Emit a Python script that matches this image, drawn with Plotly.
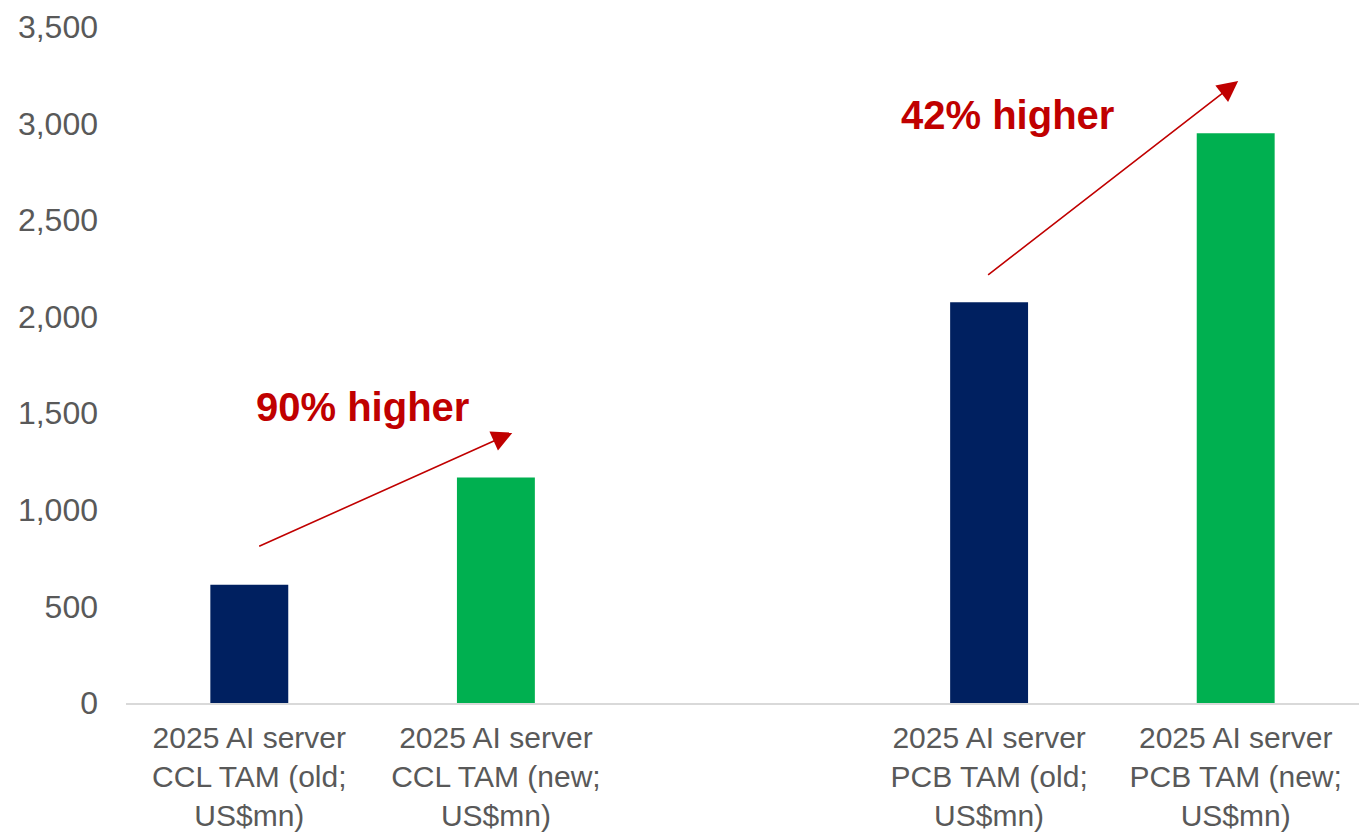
import plotly.graph_objects as go

categories = [
    "2025 AI server<br>CCL TAM (old;<br>US$mn)",
    "2025 AI server<br>CCL TAM (new;<br>US$mn)",
    " ",
    "2025 AI server<br>PCB TAM (old;<br>US$mn)",
    "2025 AI server<br>PCB TAM (new;<br>US$mn)",
]
values = [612, 1168, None, 2075, 2950]
bar_colors = ["#002060", "#00B050", "#FFFFFF", "#002060", "#00B050"]

y_ticks = [0, 500, 1000, 1500, 2000, 2500, 3000, 3500]
y_tick_labels = ["0", "500", "1,000", "1,500", "2,000", "2,500", "3,000", "3,500"]

# annotation labels: (text, x index, y)
labels = [("90% higher", 0.458, 1530), ("42% higher", 3.074, 3045)]
# arrows: (tail x, tail y, head x, head y)
arrows = [(0.034, 808, 1.068, 1400), (2.99, 2211, 4.01, 3220)]

font_family = "Liberation Sans, Arial, sans-serif"

fig = go.Figure()
fig.add_trace(go.Bar(
    x=categories,
    y=values,
    marker=dict(color=bar_colors, line=dict(width=0)),
    showlegend=False,
    hoverinfo="skip",
))

annotations = []
for text, x, y in labels:
    annotations.append(dict(
        x=x, y=y, xref="x", yref="y", text=text, showarrow=False,
        font=dict(family=font_family, size=40, color="#C00000", weight="bold"),
        xanchor="center", yanchor="middle",
    ))
for tx, ty, hx, hy in arrows:
    annotations.append(dict(
        x=hx, y=hy, ax=tx, ay=ty, xref="x", yref="y", axref="x", ayref="y",
        text="", showarrow=True, arrowhead=2, arrowsize=2.6, arrowwidth=1.6,
        arrowcolor="#C00000", standoff=0, startstandoff=0,
    ))

fig.update_layout(
    width=1360, height=837,
    margin=dict(l=126, r=1, t=27, b=134),
    paper_bgcolor="white", plot_bgcolor="white",
    bargap=0.684,
    annotations=annotations,
    font=dict(family=font_family, color="#595959"),
)
fig.update_xaxes(
    type="category",
    categoryorder="array", categoryarray=categories,
    showline=True, linecolor="#D9D9D9", linewidth=2,
    showgrid=False, zeroline=False, ticks="",
    tickfont=dict(family=font_family, size=30, color="#595959"),
    ticklabelstandoff=7,
    automargin=False,
    fixedrange=True,
)
fig.update_yaxes(
    range=[0, 3500],
    tickvals=y_ticks, ticktext=y_tick_labels,
    showgrid=False, zeroline=False, showline=False, ticks="",
    tickfont=dict(family=font_family, size=32, color="#595959"),
    ticklabelstandoff=27,
    automargin=False,
    fixedrange=True,
)

fig.write_html("out.html", config={"displayModeBar": False})
